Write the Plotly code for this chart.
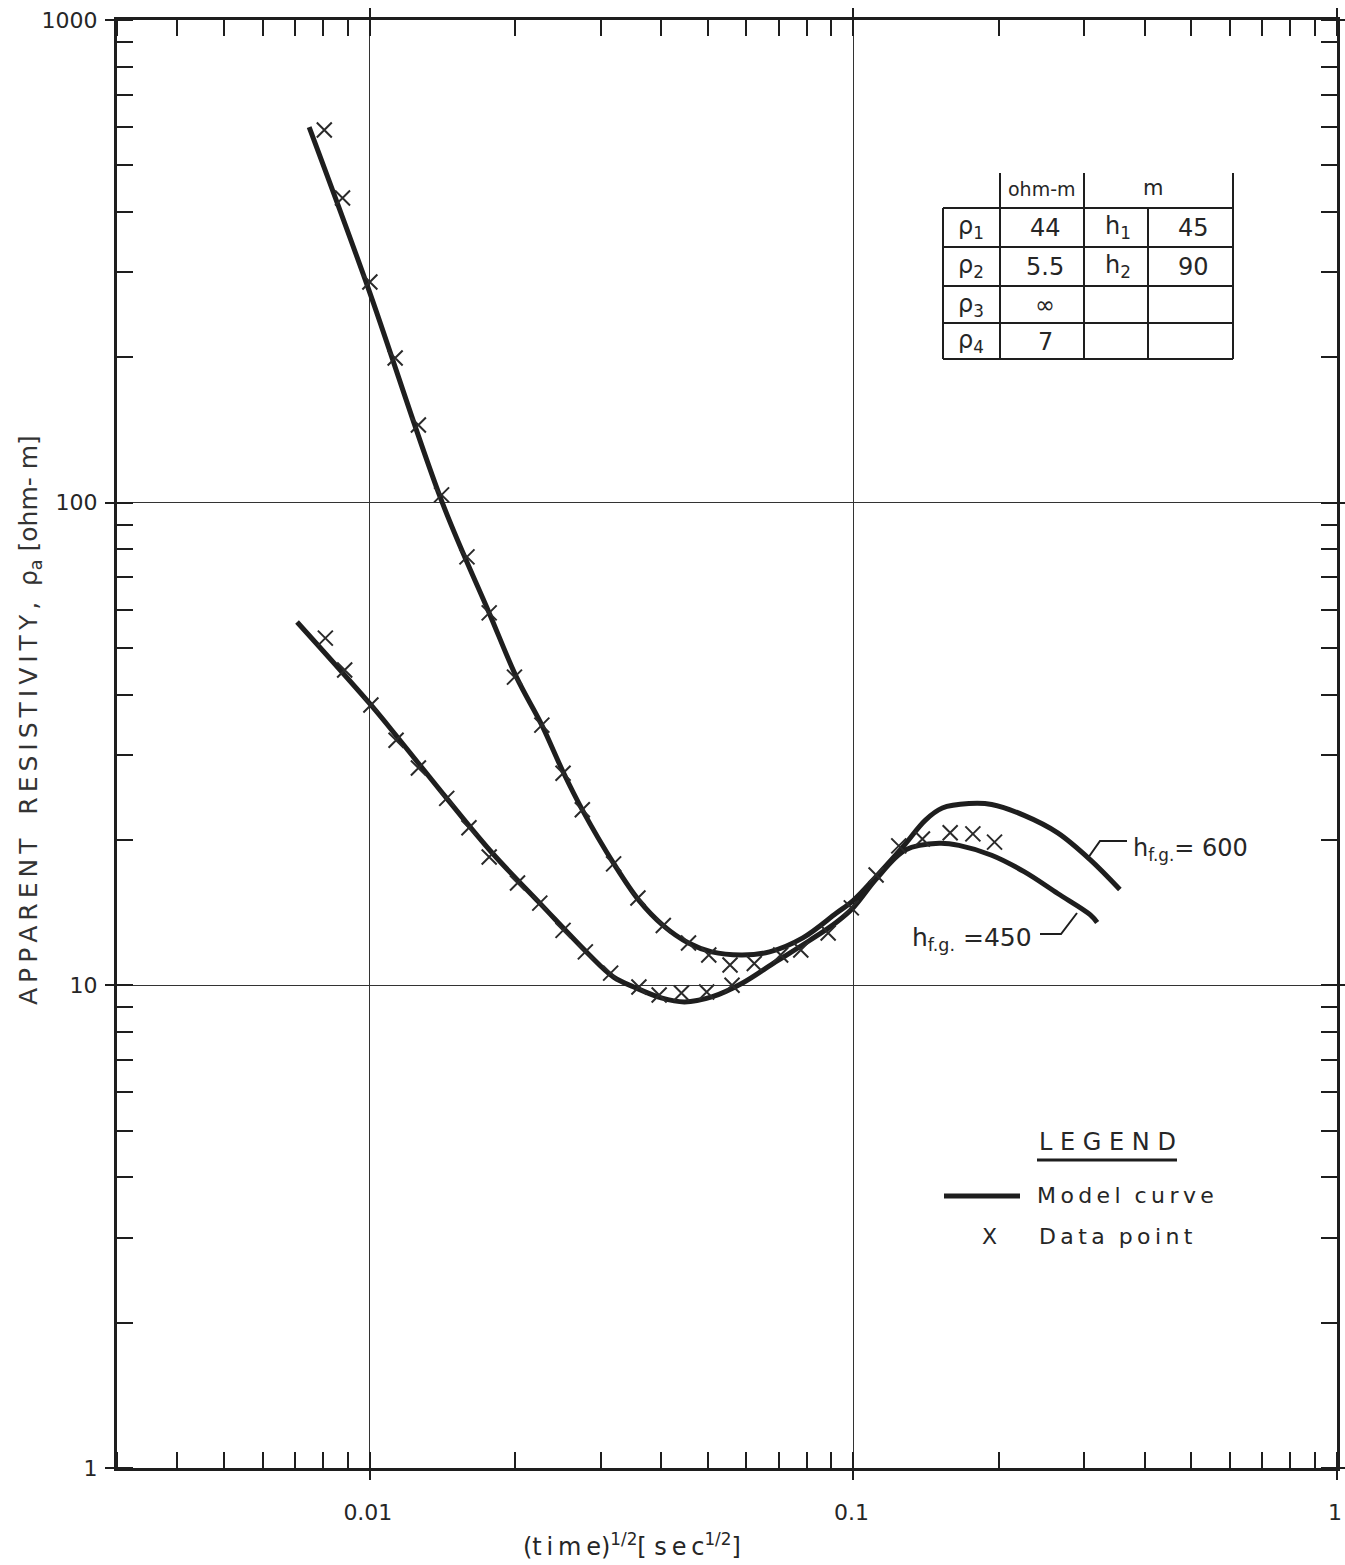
import plotly.graph_objects as go

# ---------------- data ----------------
# model curves (sqrt(time) [s^1/2], apparent resistivity [ohm-m])
curve600_x = [0.00749, 0.00990, 0.01412, 0.01765, 0.02010, 0.02268, 0.02509,
              0.02750, 0.03192, 0.03601, 0.04044, 0.04560, 0.05093, 0.05887, 0.06706, 0.07859,
              0.0921, 0.1, 0.1114, 0.1265, 0.1409, 0.1527, 0.1733, 0.1931, 0.2254, 0.2645,
              0.3090, 0.3556]
curve600_y = [600, 280, 100, 59.1, 43.5, 34.6, 27.7,
              23.1, 17.9, 15.0, 13.3, 12.24, 11.73, 11.56, 11.73, 12.54,
              14.1, 15.0, 16.8, 19.35, 22.0, 23.3, 23.8, 23.7, 22.5, 20.7,
              18.2, 15.8]

curve450_x = [0.00707, 0.01005, 0.01145, 0.01442, 0.01791, 0.02246, 0.02818, 0.03192, 0.03516,
              0.04004, 0.04473, 0.05093, 0.05887, 0.0690, 0.0813, 0.0921, 0.1, 0.1114,
              0.1283, 0.1505, 0.1653, 0.1931, 0.2254, 0.2645, 0.309, 0.3192]
curve450_y = [56.6, 38.1, 32.5, 24.4, 18.8, 14.8, 11.67, 10.4, 9.92,
              9.42, 9.24, 9.46, 10.1, 11.18, 12.4, 13.5, 14.5, 16.6,
              19.1, 19.7, 19.5, 18.6, 17.2, 15.5, 14.0, 13.5]

# data points
dataA_x = [0.00805, 0.00878, 0.0100, 0.01128, 0.01260, 0.01407, 0.01588, 0.01765, 0.01991,
           0.02268, 0.02509, 0.0275, 0.03192, 0.03584, 0.04044, 0.0456, 0.05022, 0.05557,
           0.06237, 0.07071, 0.07783, 0.08866, 0.0990, 0.1114, 0.1241, 0.1389, 0.1585,
           0.1766, 0.1958]
dataA_y = [591.6, 427.8, 286.5, 199.4, 144.9, 103.8, 77.2, 59.1, 43.5,
           34.6, 27.5, 23.1, 17.85, 15.17, 13.3, 12.24, 11.56, 11.02,
           11.1, 11.56, 11.84, 12.84, 14.47, 16.93, 19.45, 20.1, 20.7,
           20.6, 19.8]

dataB_x = [0.00809, 0.00887, 0.01005, 0.01133, 0.0126, 0.01442, 0.01603, 0.01765, 0.0202,
           0.02246, 0.02509, 0.0279, 0.03147, 0.03601, 0.03965, 0.04409, 0.04972, 0.0561]
dataB_y = [52.4, 45.0, 38.1, 32.2, 28.2, 24.4, 21.2, 18.45, 16.3,
           14.8, 13.0, 11.73, 10.6, 9.92, 9.55, 9.64, 9.69, 10.0]

# parameter table
table_header = ["ohm-m", "m"]
rho_labels = ["ρ<sub>1</sub>", "ρ<sub>2</sub>", "ρ<sub>3</sub>", "ρ<sub>4</sub>"]
rho_values = ["44", "5.5", "∞", "7"]
h_labels = ["h<sub>1</sub>", "h<sub>2</sub>", "", ""]
h_values = ["45", "90", "", ""]

curve_labels = ["h<sub>f.g.</sub>= 600", "h<sub>f.g.</sub> =450"]

# ---------------- layout helpers ----------------
W, H = 1345, 1565
L, R, T, B = 117, 1337, 20, 1468


def PX(px):
    return (px - L) / (R - L)


def PY(py):
    return (B - py) / (B - T)


def spaced(s):
    # emulate the wide letter spacing of technical lettering
    return "\u2009".join(s)


INK = "#1e1e1e"
TXT = "#262626"
FONT = "DejaVu Sans"

fig = go.Figure()

for xs, ys in [(curve600_x, curve600_y), (curve450_x, curve450_y)]:
    fig.add_trace(go.Scatter(x=xs, y=ys, mode="lines",
                             line=dict(color=INK, width=5, shape="spline", smoothing=1.0),
                             showlegend=False, hoverinfo="skip"))

for xs, ys in [(dataA_x, dataA_y), (dataB_x, dataB_y)]:
    fig.add_trace(go.Scatter(x=xs, y=ys, mode="markers",
                             marker=dict(symbol="x-thin-open", size=15, color="#2a2a2a",
                                         line=dict(color="#2a2a2a", width=2)),
                             showlegend=False, hoverinfo="skip"))

axis_common = dict(
    type="log",
    automargin=False,
    ticklabeloverflow="allow",
    showline=True, linecolor=INK, linewidth=3,
    showgrid=True, gridcolor="#333333", gridwidth=1.4,
    ticks="outside", ticklen=9, tickwidth=2, tickcolor=INK,
    mirror="ticks",
    zeroline=False,
    dtick=1,
    exponentformat="none",
    tickfont=dict(family=FONT, size=22, color=TXT),
    minor=dict(ticks="inside", ticklen=16, tickwidth=2, tickcolor=INK,
               dtick="D1", showgrid=False),
)

fig.update_xaxes(range=[-2.5229, 0], ticklabelstandoff=14, ticklabelshift=-2, **axis_common)
fig.update_yaxes(range=[0, 3], ticklabelstandoff=3, **axis_common)

shapes = []
annotations = []


def note(px, py, text, size, xanchor="center", yanchor="middle", color=TXT, **kw):
    annotations.append(dict(x=PX(px), y=PY(py), text=text, showarrow=False,
                            xref="paper", yref="paper", xanchor=xanchor, yanchor=yanchor,
                            font=dict(family=FONT, size=size, color=color), **kw))


# ---- table ----
vx = [943, 1000, 1084, 1148, 1233]
hy = [208, 247, 286, 323, 359]
for x in vx:
    top = 208 if x in (943, 1148) else 173
    shapes.append(dict(type="line", xref="paper", yref="paper",
                       x0=PX(x), x1=PX(x), y0=PY(top), y1=PY(359),
                       line=dict(color=INK, width=2)))
for y in hy:
    shapes.append(dict(type="line", xref="paper", yref="paper",
                       x0=PX(943), x1=PX(1233), y0=PY(y), y1=PY(y),
                       line=dict(color=INK, width=2)))

note(1042, 189, table_header[0], 19)
note(1153, 188, table_header[1], 21)
row_c = [228, 267, 305, 342]
for i in range(4):
    for cx, txt in [(971, rho_labels[i]), (1045, rho_values[i]),
                    (1118, h_labels[i]), (1193, h_values[i])]:
        if txt:
            note(cx, row_c[i], txt, 24)

# ---- curve labels with leaders ----
note(1131, 849, curve_labels[0], 24, xanchor="left")
note(1034, 939, curve_labels[1], 25, xanchor="right")
shapes.append(dict(type="path", xref="paper", yref="paper",
                   path=f"M {PX(1127)} {PY(841)} L {PX(1100)} {PY(841)} L {PX(1088)} {PY(858)}",
                   line=dict(color=INK, width=2)))
shapes.append(dict(type="path", xref="paper", yref="paper",
                   path=f"M {PX(1040)} {PY(934)} L {PX(1061)} {PY(934)} L {PX(1077)} {PY(913)}",
                   line=dict(color=INK, width=2)))

# ---- legend ----
note(1107, 1142, "L E G E N D", 24)
shapes.append(dict(type="line", xref="paper", yref="paper",
                   x0=PX(1037), x1=PX(1177), y0=PY(1160), y1=PY(1160),
                   line=dict(color=INK, width=3)))
shapes.append(dict(type="line", xref="paper", yref="paper",
                   x0=PX(944), x1=PX(1020), y0=PY(1196), y1=PY(1196),
                   line=dict(color=INK, width=5)))
note(1035, 1195, spaced("Model") + "  " + spaced("curve"), 22, xanchor="left")
note(989, 1236, "X", 22)
note(1037, 1236, spaced("Data") + "  " + spaced("point"), 22, xanchor="left")

# ---- axis titles ----
note(632, 1545, "(" + spaced("time") + ")<sup>1/2</sup>[ " + spaced("sec") + "<sup>1/2</sup>]", 24)
note(30, 720,
     spaced("APPARENT") + "   " + spaced("RESISTIVITY,") + "  ρ<sub>a</sub> [ohm- m]",
     25, textangle=-90, color="#333")

fig.update_layout(
    width=W, height=H,
    margin=dict(l=L, r=W - R, t=T, b=H - B, autoexpand=False),
    paper_bgcolor="white", plot_bgcolor="white",
    shapes=shapes, annotations=annotations,
    showlegend=False,
)

fig.write_html("out.html", config={"displayModeBar": False},
               post_script="document.body.style.margin='0';document.body.style.overflow='hidden';")
